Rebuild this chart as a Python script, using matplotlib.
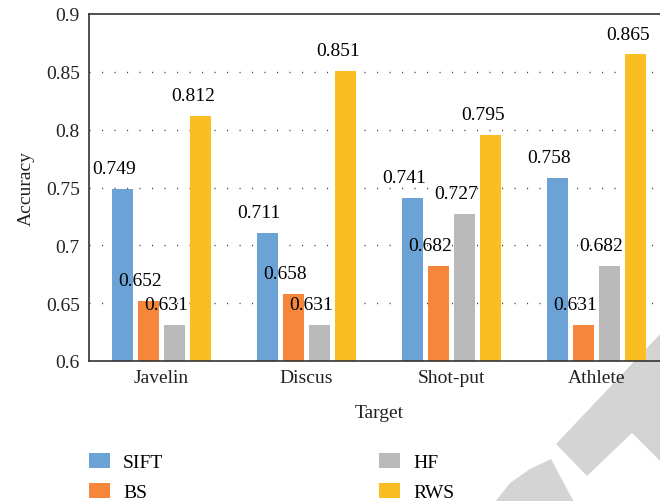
import numpy as np
import matplotlib.pyplot as plt
from matplotlib.patches import Polygon
import matplotlib
matplotlib.rcParams['font.family'] = 'Liberation Serif'
matplotlib.rcParams['font.size'] = 14

targets = ["Javelin", "Discus", "Shot-put", "Athlete"]
methods = ["SIFT", "BS", "HF", "RWS"]
sift = [0.749, 0.711, 0.741, 0.758]
bs = [0.652, 0.658, 0.682, 0.631]
hf = [0.631, 0.631, 0.727, 0.682]
rws = [0.812, 0.851, 0.795, 0.865]
yticks = [0.6, 0.65, 0.7, 0.75, 0.8, 0.85, 0.9]
ytick_labels = ["0.6", "0.65", "0.7", "0.75", "0.8", "0.85", "0.9"]

colors = ["#6ba3d6", "#f6863a", "#b9b9b9", "#fbbe22"]

fig = plt.figure(figsize=(6.6, 5.02), dpi=100)
ax = fig.add_axes([89/660, 1 - 362/502, 580/660, 347/502])
ax.set_facecolor("none")

# grey diagonal marks in the lower right corner
def px(pts):
    return [(x/660, 1 - y/502) for x, y in pts]

band = px([(662, 333), (556, 445), (587, 477), (632, 434), (662, 464)])
tip = px([(551, 460), (530, 470), (510, 484), (495, 503), (574, 503)])
for pts in [band, tip]:
    fig.patches.append(Polygon(pts, closed=True, transform=fig.transFigure,
                               facecolor="#d4d4d4", edgecolor="none", zorder=-1))

x = np.arange(len(targets))
pitch = 0.1814
width = 0.145
for i, (name, vals) in enumerate(zip(methods, [sift, bs, hf, rws])):
    pos = x + (i - 1.5) * pitch
    ax.bar(pos, vals, width, color=colors[i], label=name, zorder=2)
    for p, v in zip(pos, vals):
        ax.annotate("{:.3f}".format(v), (p, v), xytext=(-5.8, 11.5),
                    textcoords="offset points", ha="center", va="baseline",
                    zorder=4)

ax.set_xlim(-0.5, 3.5)
ax.set_ylim(0.6, 0.9)
ax.set_yticks(yticks)
ax.set_yticklabels(ytick_labels)
ax.set_xticks(x)
ax.set_xticklabels(targets)
ax.tick_params(axis="both", length=0, colors="#222222")
ax.tick_params(axis="y", pad=6.5)
ax.tick_params(axis="x", pad=6)

for y in yticks[1:-1]:
    ax.axhline(y, color="#444444", lw=1.0, linestyle=(0, (0.8, 8.2)), zorder=1)

for side in ["left", "bottom", "top", "right"]:
    ax.spines[side].set_color("#333333")
    ax.spines[side].set_linewidth(1.2)

ax.set_ylabel("Accuracy", labelpad=8, color="#222222")
ax.set_xlabel("Target", labelpad=13, color="#222222")

fig.legend(loc="upper left", bbox_to_anchor=(89/660, 1 - 454/502), ncol=2,
           frameon=False, borderaxespad=0, borderpad=0,
           handlelength=1.08, handleheight=0.82, handletextpad=0.67,
           columnspacing=11.1, labelspacing=0.6)

fig.savefig("out.png", dpi=100)
